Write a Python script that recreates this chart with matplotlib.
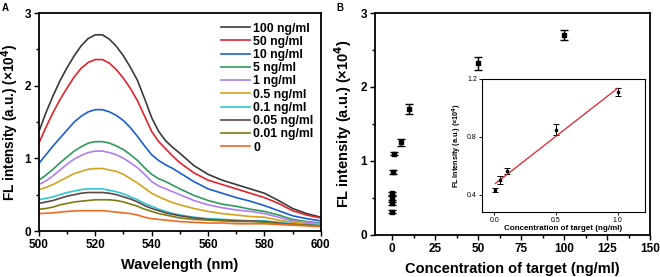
import numpy as np
import matplotlib
matplotlib.use('Agg')
import matplotlib.pyplot as plt
from matplotlib.ticker import AutoMinorLocator

plt.rcParams['font.family'] = ['Liberation Sans', 'DejaVu Sans']
plt.rcParams['font.weight'] = 'bold'
plt.rcParams['axes.labelweight'] = 'bold'
plt.rcParams['mathtext.default'] = 'bf'

# panel A: emission spectra, values in units of 1e4
wavelength = [500, 502.5, 505, 507.5, 510, 512.5, 515, 517.5, 520, 522.5,
              525, 527.5, 530, 532.5, 535, 537.5, 540, 542.5, 545, 547.5,
              550, 555, 560, 565, 570, 575, 580, 585, 590, 595, 600]
labels = ['100 ng/ml', '50 ng/ml', '10 ng/ml', '5 ng/ml', '1 ng/ml',
          '0.5 ng/ml', '0.1 ng/ml', '0.05 ng/ml', '0.01 ng/ml', '0']
colors = ['#3a3a3a', '#e3232c', '#1a5fd0', '#2f9a5c', '#b07ef0',
          '#d6a21c', '#2cc7d6', '#5e4646', '#7d7a12', '#f26a22']
fl_100 = [1.37, 1.63, 1.86, 2.07, 2.25, 2.41, 2.55, 2.65, 2.70, 2.70,
          2.64, 2.54, 2.41, 2.25, 2.07, 1.82, 1.56, 1.37, 1.24, 1.15,
          1.07, 0.90, 0.78, 0.70, 0.64, 0.58, 0.52, 0.42, 0.31, 0.24, 0.19]
fl_50 = [1.21, 1.43, 1.63, 1.81, 1.97, 2.12, 2.24, 2.32, 2.36, 2.36,
         2.31, 2.22, 2.10, 1.96, 1.79, 1.58, 1.37, 1.23, 1.13, 1.03,
         0.94, 0.80, 0.70, 0.64, 0.58, 0.52, 0.46, 0.38, 0.28, 0.22, 0.18]
fl_10 = [0.93, 1.05, 1.17, 1.28, 1.39, 1.50, 1.58, 1.64, 1.67, 1.67,
         1.64, 1.59, 1.52, 1.42, 1.30, 1.17, 1.05, 0.97, 0.91, 0.86,
         0.80, 0.68, 0.58, 0.52, 0.46, 0.41, 0.35, 0.28, 0.21, 0.17, 0.14]
fl_5 = [0.70, 0.77, 0.85, 0.94, 1.02, 1.10, 1.16, 1.21, 1.23, 1.23,
        1.21, 1.17, 1.12, 1.05, 0.97, 0.87, 0.78, 0.72, 0.68, 0.63,
        0.58, 0.49, 0.42, 0.37, 0.34, 0.30, 0.27, 0.22, 0.16, 0.13, 0.11]
fl_1 = [0.64, 0.69, 0.76, 0.84, 0.92, 0.99, 1.04, 1.08, 1.10, 1.10,
        1.08, 1.05, 1.00, 0.94, 0.87, 0.78, 0.68, 0.62, 0.58, 0.54,
        0.50, 0.42, 0.36, 0.32, 0.29, 0.27, 0.24, 0.19, 0.14, 0.12, 0.10]
fl_05 = [0.57, 0.60, 0.64, 0.69, 0.74, 0.79, 0.82, 0.85, 0.86, 0.86,
         0.84, 0.82, 0.78, 0.72, 0.66, 0.59, 0.52, 0.47, 0.43, 0.39,
         0.36, 0.31, 0.27, 0.24, 0.22, 0.20, 0.19, 0.15, 0.12, 0.10, 0.09]
fl_01 = [0.43, 0.45, 0.47, 0.50, 0.53, 0.55, 0.57, 0.58, 0.58, 0.58,
         0.56, 0.54, 0.51, 0.47, 0.43, 0.38, 0.34, 0.30, 0.27, 0.24,
         0.22, 0.19, 0.17, 0.16, 0.15, 0.14, 0.14, 0.12, 0.10, 0.09, 0.08]
fl_005 = [0.38, 0.40, 0.42, 0.45, 0.48, 0.50, 0.52, 0.53, 0.53, 0.53,
          0.52, 0.50, 0.47, 0.44, 0.40, 0.35, 0.31, 0.28, 0.25, 0.23,
          0.21, 0.18, 0.16, 0.15, 0.14, 0.14, 0.13, 0.11, 0.09, 0.08, 0.07]
fl_001 = [0.30, 0.31, 0.33, 0.36, 0.38, 0.40, 0.41, 0.42, 0.43, 0.43,
          0.43, 0.42, 0.40, 0.37, 0.34, 0.30, 0.27, 0.24, 0.22, 0.20,
          0.18, 0.16, 0.15, 0.14, 0.13, 0.13, 0.12, 0.10, 0.09, 0.08, 0.07]
fl_0 = [0.24, 0.245, 0.25, 0.26, 0.27, 0.275, 0.28, 0.28, 0.28, 0.28,
        0.27, 0.26, 0.25, 0.24, 0.22, 0.19, 0.17, 0.16, 0.15, 0.14,
        0.13, 0.12, 0.11, 0.11, 0.10, 0.10, 0.10, 0.09, 0.08, 0.07, 0.06]
spectra = [fl_100, fl_50, fl_10, fl_5, fl_1, fl_05, fl_01, fl_005, fl_001, fl_0]

# panel B: peak intensity vs concentration
conc = [0, 0.01, 0.05, 0.1, 0.5, 1, 5, 10, 50, 100]
peak = [0.31, 0.43, 0.50, 0.56, 0.85, 1.10, 1.25, 1.70, 2.32, 2.70]
peak_err = [0.02, 0.02, 0.025, 0.02, 0.03, 0.025, 0.05, 0.065, 0.085, 0.07]

# inset: linear range
lin_conc = [0.01, 0.05, 0.1, 0.5, 1.0]
lin_peak = [0.43, 0.50, 0.565, 0.85, 1.11]
lin_err = [0.015, 0.03, 0.02, 0.04, 0.025]

ylab = 'FL intensity (a.u.) (×10$^4$)'

fig = plt.figure(figsize=(6.6, 2.77), dpi=100)

def style(ax, lw=1.3, size=8.5):
    for s in ax.spines.values():
        s.set_linewidth(lw)
    ax.tick_params(which='both', direction='out', top=False, right=False,
                   labelsize=size, width=lw * 0.8, pad=2)
    ax.tick_params(which='major', length=3.5)
    ax.tick_params(which='minor', length=2)

ax1 = fig.add_axes([0.059, 0.166, 0.427, 0.787])
for vals, lab, c in zip(spectra, labels, colors):
    ax1.plot(wavelength, vals, color=c, lw=1.2, label=lab)
ax1.set_xlim(500, 600)
ax1.set_ylim(0, 3)
ax1.set_xticks([500, 520, 540, 560, 580, 600])
ax1.set_yticks([0, 1, 2, 3])
ax1.xaxis.set_minor_locator(AutoMinorLocator(2))
ax1.yaxis.set_minor_locator(AutoMinorLocator(2))
style(ax1)
ax1.set_xlabel('Wavelength (nm)', fontsize=10.5)
ax1.xaxis.set_label_coords(0.5, -0.125)
ax1.set_ylabel(ylab, fontsize=9.8)
ax1.yaxis.set_label_coords(-0.064, 0.5)
leg = ax1.legend(loc='upper right', frameon=False, fontsize=8.8,
                 handlelength=2.3, handletextpad=0.3, labelspacing=0.1,
                 borderaxespad=0.2, bbox_to_anchor=(1.0, 0.99))

ax2 = fig.add_axes([0.568, 0.152, 0.417, 0.801])
ax2.errorbar(conc, peak, yerr=peak_err, fmt='s', color='black', ms=3.5,
             capsize=3, elinewidth=1, capthick=1)
ax2.set_xlim(-10, 150)
ax2.set_ylim(0, 3)
ax2.set_xticks([0, 25, 50, 75, 100, 125, 150])
ax2.set_yticks([0, 1, 2, 3])
ax2.xaxis.set_minor_locator(AutoMinorLocator(2))
ax2.yaxis.set_minor_locator(AutoMinorLocator(2))
style(ax2)
ax2.set_xlabel('Concentration of target (ng/ml)', fontsize=10.5)
ax2.xaxis.set_label_coords(0.5, -0.124)
ax2.set_ylabel(ylab, fontsize=10.5)
ax2.yaxis.set_label_coords(-0.076, 0.5)

ax3 = fig.add_axes([0.730, 0.235, 0.247, 0.480])
ax3.errorbar(lin_conc, lin_peak, yerr=lin_err, fmt='s', color='black', ms=2,
             capsize=2, elinewidth=0.7, capthick=0.7)
k, b = np.polyfit(lin_conc, lin_peak, 1)
fx = np.array([lin_conc[0], lin_conc[-1]])
ax3.plot(fx, k * fx + b, color='#e0202a', lw=0.9)
ax3.set_xlim(-0.1, 1.22)
ax3.set_ylim(0.28, 1.2)
ax3.set_xticks([0.0, 0.5, 1.0])
ax3.set_yticks([0.4, 0.8, 1.2])
style(ax3, lw=0.8, size=5)
ax3.tick_params(which='major', length=2, pad=1.5)
for t in ax3.get_xticklabels() + ax3.get_yticklabels():
    t.set_fontweight('normal')
ax3.set_xlabel('Concentration of target (ng/ml)', fontsize=5.8, labelpad=1)
ax3.set_ylabel(ylab, fontsize=5.2, labelpad=2)

fig.text(0.003, 0.99, 'A', fontsize=7, fontweight='bold', va='top')
fig.text(0.51, 0.99, 'B', fontsize=7, fontweight='bold', va='top')

fig.savefig('out.png', dpi=100)
